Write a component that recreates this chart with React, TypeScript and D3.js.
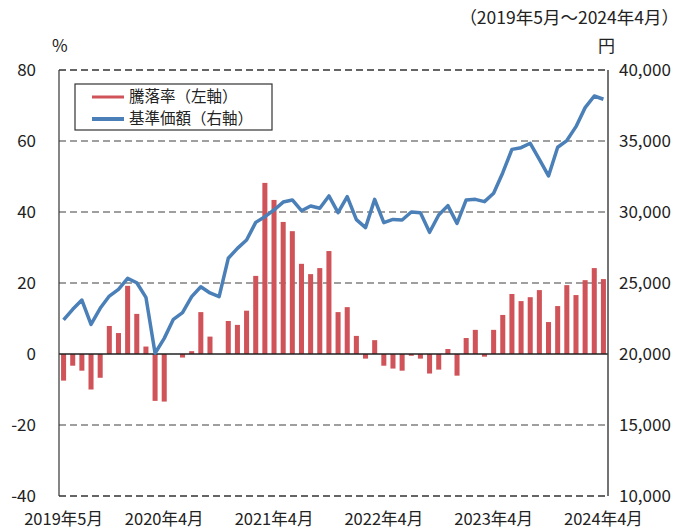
import React from 'react';
import * as d3 from 'd3';

// 月（2019年5月〜2024年4月）
const months: string[] = d3.range(60).map(i => {
    const y = 2019 + Math.floor((4 + i) / 12);
    const m = ((4 + i) % 12) + 1;
    return `${y}-${m}`;
});

// 騰落率（%）
const returns: number[] = [
    -7.5, -3.3, -4.7, -10, -6.7, 7.9, 5.9, 19.2, 11.3, 2.1,
    -13.2, -13.4, 0, -1, 0.8, 11.8, 4.9, 0, 9.3, 8.2,
    12.2, 22, 48.2, 43.4, 37.2, 34.6, 25.4, 22.5, 24.2, 29,
    11.8, 13.2, 5.1, -1.3, 3.9, -3.3, -4.1, -4.7, -0.5, -1.3,
    -5.5, -4.4, 1.4, -6.1, 4.5, 6.8, -0.75, 6.8, 11, 16.9,
    14.9, 16, 18, 9, 13.5, 19.4, 16.6, 20.8, 24.2, 21.1,
];

// 基準価額（円）
const nav: number[] = [
    22400, 23150, 23800, 22090, 23220, 24080, 24550, 25330, 25020, 23990,
    20050, 21100, 22440, 22910, 24040, 24740, 24300, 24040, 26740, 27440,
    28030, 29270, 29670, 30140, 30700, 30850, 30090, 30420, 30260, 31130,
    29950, 31080, 29460, 28900, 30890, 29250, 29480, 29440, 30000, 29950,
    28570, 29790, 30450, 29200, 30850, 30890, 30730, 31320, 32770, 34410,
    34530, 34840, 33710, 32540, 34560, 35030, 36010, 37350, 38170, 37940,
];

const leftTicks = [80, 60, 40, 20, 0, -20, -40];
const rightTicks = [40000, 35000, 30000, 25000, 20000, 15000, 10000];
const xLabels: { idx: number; text: string }[] = [
    { idx: 0, text: '2019年5月' },
    { idx: 11, text: '2020年4月' },
    { idx: 23, text: '2021年4月' },
    { idx: 35, text: '2022年4月' },
    { idx: 47, text: '2023年4月' },
    { idx: 59, text: '2024年4月' },
];

const W = 681;
const H = 529;
const FONT = '"Noto Sans CJK JP", "Noto Sans", sans-serif';
const RED = '#cf5358';
const BLUE = '#4a7fb7';

export default function App() {
    const left = 59, right = 608, top = 70, bottom = 496;

    const x = d3.scaleBand<string>().domain(months).range([left, right]).paddingInner(0.45).paddingOuter(0.225);
    const yL = d3.scaleLinear().domain([-40, 80]).range([bottom, top]);
    const yR = d3.scaleLinear().domain([10000, 40000]).range([bottom, top]);
    const cx = (i: number) => x(months[i])! + x.bandwidth() / 2;

    const line = d3.line<number>()
        .x((_, i) => cx(i))
        .y(d => yR(d));

    return (
        <svg width={W} height={H} style={{ position: 'absolute', left: 0, top: 0 }} fontFamily={FONT}>
            <rect width={W} height={H} fill="#fff" />

            {/* グリッド */}
            {leftTicks.filter(t => t !== 0).map(t => (
                <line key={t} x1={left} x2={right} y1={yL(t)} y2={yL(t)}
                    stroke={t === 80 || t === -40 ? '#333' : '#808080'} strokeWidth={1.3} strokeDasharray="7,4" />
            ))}

            {/* 騰落率 */}
            {returns.map((v, i) => (
                <rect key={i} x={x(months[i])} width={x.bandwidth()}
                    y={Math.min(yL(v), yL(0))} height={Math.abs(yL(v) - yL(0))} fill={RED} />
            ))}

            <line x1={left} x2={right} y1={yL(0)} y2={yL(0)} stroke="#222" strokeWidth={1.3} />
            <line x1={left} x2={left} y1={top} y2={bottom} stroke="#333" strokeWidth={1.2} />
            <line x1={right} x2={right} y1={top} y2={bottom} stroke="#444" strokeWidth={1.5} />

            {/* 基準価額 */}
            <path d={line(nav)!} fill="none" stroke={BLUE} strokeWidth={3.5} strokeLinejoin="round" />

            {/* 軸ラベル */}
            {leftTicks.map(t => (
                <text key={t} x={36} y={yL(t)} dy="0.35em" textAnchor="end" fontSize={17} fill="#222">{t}</text>
            ))}
            {rightTicks.map(t => (
                <text key={t} x={619} y={yR(t)} dy="0.35em" textAnchor="start" fontSize={17} fill="#222">{d3.format(',')(t)}</text>
            ))}
            {xLabels.map(l => (
                <text key={l.idx} x={cx(l.idx)} y={525} textAnchor="middle" fontSize={16.5} fill="#222">{l.text}</text>
            ))}

            <text x={52} y={52} fontSize={17} fill="#222">%</text>
            <text x={598} y={52} fontSize={17} fill="#222">円</text>
            <text x={679} y={24} textAnchor="end" fontSize={17.5} fill="#222">（2019年5月～2024年4月）</text>

            {/* 凡例 */}
            <rect x={75} y={84} width={197} height={46} fill="#fff" stroke="#333" strokeWidth={1.2} />
            <line x1={92} x2={124} y1={97} y2={97} stroke={RED} strokeWidth={3} />
            <text x={129} y={97} dy="0.35em" fontSize={15.5} fill="#222">騰落率（左軸）</text>
            <line x1={92} x2={124} y1={119} y2={119} stroke={BLUE} strokeWidth={4} />
            <text x={129} y={119} dy="0.35em" fontSize={15.5} fill="#222">基準価額（右軸）</text>
        </svg>
    );
}
